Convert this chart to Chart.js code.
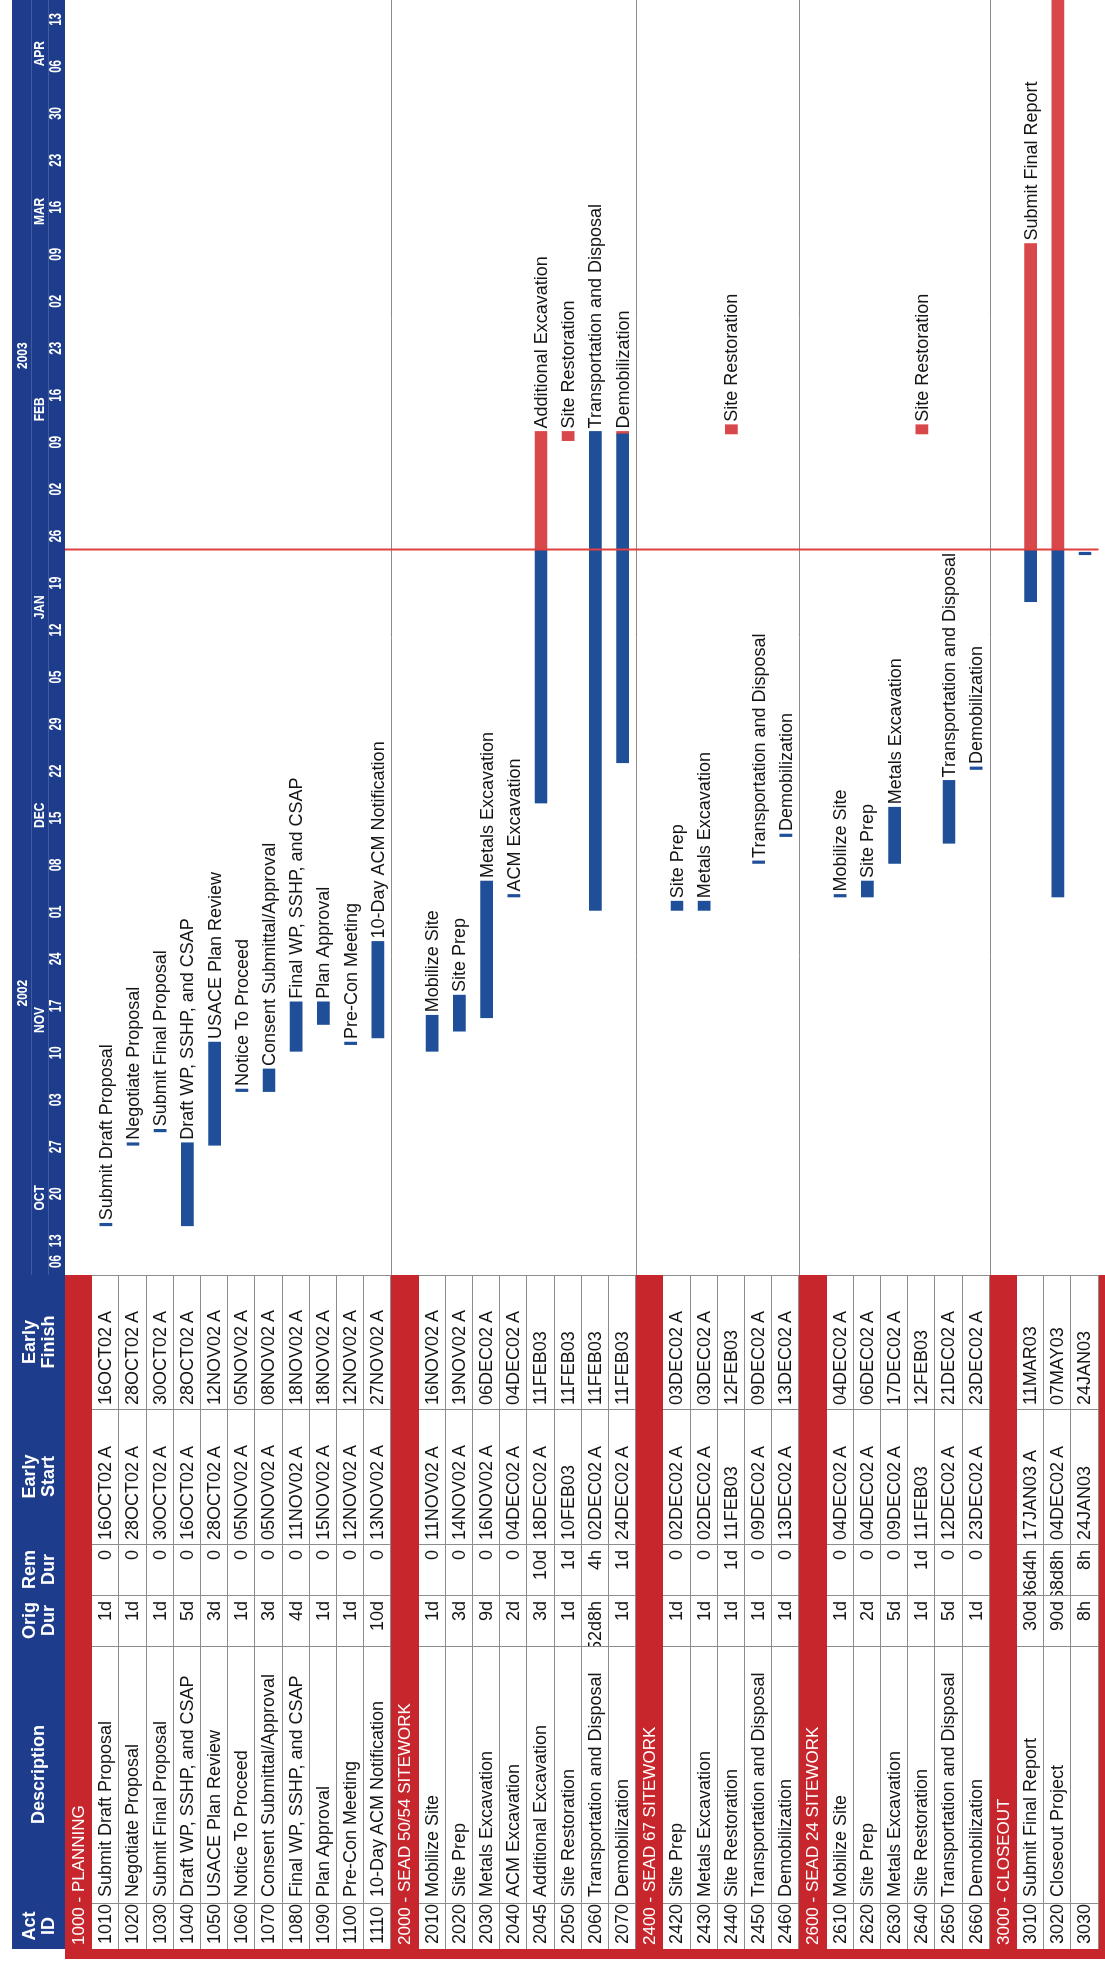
<!DOCTYPE html>
<html>
<head>
<meta charset="utf-8">
<title>Project Schedule</title>
<script src="https://cdn.jsdelivr.net/npm/chart.js@4.4.1/dist/chart.umd.min.js"></script>
<style>
  html, body { margin: 0; padding: 0; background: #fff; overflow: hidden; }
  body { width: 1105px; height: 1961px; position: relative; }
  /* the sheet is landscape, turned a quarter left like the scanned page */
  #page { position: absolute; left: 0; top: 0; width: 1961px; height: 1105px;
          transform-origin: 0 0; transform: translateY(1961px) rotate(-90deg);
          font-family: Arial, "Liberation Sans", sans-serif; background: #fff; }
  #gantt { position: absolute; left: 0; top: 0; }
  #table { position: absolute; left: 0; top: 0; width: 686px; height: 1105px; }
  .c { position: absolute; box-sizing: border-box; white-space: nowrap; overflow: hidden;
       font-size: 18px; color: #151515; background: #fff;
       border-right: 1px solid #8c8c8c; border-bottom: 1px solid #8c8c8c; }
  .h { color: #fff; font-weight: bold; background: #1d3d8c; border: none; font-size: 18px;
       line-height: 19px; display: flex; align-items: center; justify-content: center; text-align: center; }
  .band { background: #c8262d; color: #fff; border: none; font-size: 17px; padding-left: 4px; }
  .r { display: flex; justify-content: flex-end; }
</style>
</head>
<body>
<div id="page">
  <canvas id="gantt" width="1961" height="1105"></canvas>
  <div id="table"></div>
</div>
<script>
// ---- data read from the schedule ----
const actIds = ['1000 - PLANNING', '1010', '1020', '1030', '1040', '1050', '1060', '1070', '1080', '1090', '1100', '1110',
  '2000 - SEAD 50/54 SITEWORK', '2010', '2020', '2030', '2040', '2045', '2050', '2060', '2070',
  '2400 - SEAD 67 SITEWORK', '2420', '2430', '2440', '2450', '2460',
  '2600 - SEAD 24 SITEWORK', '2610', '2620', '2630', '2640', '2650', '2660',
  '3000 - CLOSEOUT', '3010', '3020', '3030'];
const descriptions = ['', 'Submit Draft Proposal', 'Negotiate Proposal', 'Submit Final Proposal', 'Draft WP, SSHP, and CSAP',
  'USACE Plan Review', 'Notice To Proceed', 'Consent Submittal/Approval', 'Final WP, SSHP, and CSAP', 'Plan Approval',
  'Pre-Con Meeting', '10-Day ACM Notification',
  '', 'Mobilize Site', 'Site Prep', 'Metals Excavation', 'ACM Excavation', 'Additional Excavation', 'Site Restoration',
  'Transportation and Disposal', 'Demobilization',
  '', 'Site Prep', 'Metals Excavation', 'Site Restoration', 'Transportation and Disposal', 'Demobilization',
  '', 'Mobilize Site', 'Site Prep', 'Metals Excavation', 'Site Restoration', 'Transportation and Disposal', 'Demobilization',
  '', 'Submit Final Report', 'Closeout Project', ''];
const origDur = ['', '1d', '1d', '1d', '5d', '3d', '1d', '3d', '4d', '1d', '1d', '10d',
  '', '1d', '3d', '9d', '2d', '3d', '1d', '52d8h', '1d',
  '', '1d', '1d', '1d', '1d', '1d',
  '', '1d', '2d', '5d', '1d', '5d', '1d',
  '', '30d', '90d', '8h'];
const remDur = ['', '0', '0', '0', '0', '0', '0', '0', '0', '0', '0', '0',
  '', '0', '0', '0', '0', '10d', '1d', '4h', '1d',
  '', '0', '0', '1d', '0', '0',
  '', '0', '0', '0', '1d', '0', '0',
  '', '36d4h', '68d8h', '8h'];
const earlyStart = ['', '16OCT02 A', '28OCT02 A', '30OCT02 A', '16OCT02 A', '28OCT02 A', '05NOV02 A', '05NOV02 A', '11NOV02 A',
  '15NOV02 A', '12NOV02 A', '13NOV02 A',
  '', '11NOV02 A', '14NOV02 A', '16NOV02 A', '04DEC02 A', '18DEC02 A', '10FEB03', '02DEC02 A', '24DEC02 A',
  '', '02DEC02 A', '02DEC02 A', '11FEB03', '09DEC02 A', '13DEC02 A',
  '', '04DEC02 A', '04DEC02 A', '09DEC02 A', '11FEB03', '12DEC02 A', '23DEC02 A',
  '', '17JAN03 A', '04DEC02 A', '24JAN03'];
const earlyFinish = ['', '16OCT02 A', '28OCT02 A', '30OCT02 A', '28OCT02 A', '12NOV02 A', '05NOV02 A', '08NOV02 A', '18NOV02 A',
  '18NOV02 A', '12NOV02 A', '27NOV02 A',
  '', '16NOV02 A', '19NOV02 A', '06DEC02 A', '04DEC02 A', '11FEB03', '11FEB03', '11FEB03', '11FEB03',
  '', '03DEC02 A', '03DEC02 A', '12FEB03', '09DEC02 A', '13DEC02 A',
  '', '04DEC02 A', '06DEC02 A', '17DEC02 A', '12FEB03', '21DEC02 A', '23DEC02 A',
  '', '11MAR03', '07MAY03', '24JAN03'];
// where the red (remaining) part of a bar begins: '' = none, 'start' = whole bar
const remainingFrom = ['', '', '', '', '', '', '', '', '', '', '', '',
  '', '', '', '', '', '2003-01-25', 'start', '', '2003-02-11T08:00',
  '', '', '', 'start', '', '',
  '', '', '', '', 'start', '', '',
  '', '2003-01-25', '2003-01-25', ''];
const dataDate = '2003-01-25';

// timescale
const viewStart = '2002-10-09';
const viewEnd = '2003-04-17';
const weekStarts = ['2002-10-06', '2002-10-13', '2002-10-20', '2002-10-27', '2002-11-03', '2002-11-10', '2002-11-17',
  '2002-11-24', '2002-12-01', '2002-12-08', '2002-12-15', '2002-12-22', '2002-12-29', '2003-01-05', '2003-01-12',
  '2003-01-19', '2003-01-26', '2003-02-02', '2003-02-09', '2003-02-16', '2003-02-23', '2003-03-02', '2003-03-09',
  '2003-03-16', '2003-03-23', '2003-03-30', '2003-04-06', '2003-04-13'];
const monthNames = ['OCT', 'NOV', 'DEC', 'JAN', 'FEB', 'MAR', 'APR'];
const monthStarts = ['2002-10-01', '2002-11-01', '2002-12-01', '2003-01-01', '2003-02-01', '2003-03-01', '2003-04-01', '2003-05-01'];
const yearNames = ['2002', '2003'];
const yearStarts = ['2002-01-01', '2003-01-01', '2004-01-01'];

// ---- layout ----
const W = 1961, H = 1105;
const HEAD_TOP = 12, TOP = 65, ROW_H = 27.2;
const colEdges = [12, 58, 315, 366, 417, 552, 686];
const TL_LEFT = colEdges[colEdges.length - 1];
const BLUE_HEAD = '#1d3d8c', BAR_BLUE = '#1f4f98', BAR_RED = '#d8484a';

const MONTHS = ['JAN', 'FEB', 'MAR', 'APR', 'MAY', 'JUN', 'JUL', 'AUG', 'SEP', 'OCT', 'NOV', 'DEC'];
const BASE = Date.UTC(2003, 0, 26);
const dayOf = ms => (ms - BASE) / 864e5;
const isoDay = s => dayOf(Date.parse(s.length > 10 ? s + ':00Z' : s + 'T00:00:00Z'));
function p3Day(s) {
  const m = /^(\d\d)([A-Z]{3})(\d\d)/.exec(s);
  return dayOf(Date.UTC(2000 + Number(m[3]), MONTHS.indexOf(m[2]), Number(m[1])));
}
const isBand = i => actIds[i].includes(' - ');

// ---- bars ----
const blueBars = [], redBars = [], barEnds = [];
actIds.forEach((id, i) => {
  if (isBand(i)) { blueBars.push(null); redBars.push(null); barEnds.push(null); return; }
  const s = p3Day(earlyStart[i]) + 8 / 24;
  const f = p3Day(earlyFinish[i]) + 17 / 24;
  barEnds.push(f);
  const rf = remainingFrom[i];
  if (rf === 'start') { blueBars.push(null); redBars.push([s, f]); }
  else if (rf) { const r = isoDay(rf); blueBars.push([s, r]); redBars.push([r, f]); }
  else { blueBars.push([s, f]); redBars.push(null); }
});

// ---- table (left side) ----
const table = document.getElementById('table');
function cell(cls, x0, x1, y, h, html, extra) {
  const d = document.createElement('div');
  d.className = 'c ' + cls;
  d.style.left = x0 + 'px'; d.style.width = (x1 - x0) + 'px';
  d.style.top = y + 'px'; d.style.height = h + 'px';
  if (extra) Object.assign(d.style, extra);
  d.innerHTML = html;
  table.appendChild(d);
  return d;
}
const headers = ['Act<br>ID', 'Description', 'Orig<br>Dur', 'Rem<br>Dur', 'Early<br>Start', 'Early<br>Finish'];
headers.forEach((t, k) => cell('h', colEdges[k], colEdges[k + 1], HEAD_TOP, TOP - HEAD_TOP, t));
actIds.forEach((id, i) => {
  const y = TOP + i * ROW_H;
  const lh = { lineHeight: ROW_H + 'px' };
  if (isBand(i)) {
    cell('band', colEdges[0], TL_LEFT, y, ROW_H, id, lh);
    return;
  }
  cell('', colEdges[0], colEdges[1], y, ROW_H, id, Object.assign({ paddingLeft: '5px' }, lh));
  cell('', colEdges[1], colEdges[2], y, ROW_H, descriptions[i], Object.assign({ paddingLeft: '6px' }, lh));
  cell('r', colEdges[2], colEdges[3], y, ROW_H, origDur[i], Object.assign({ paddingRight: '5px' }, lh));
  cell('r', colEdges[3], colEdges[4], y, ROW_H, remDur[i], Object.assign({ paddingRight: '5px' }, lh));
  cell('', colEdges[4], colEdges[5], y, ROW_H, earlyStart[i], Object.assign({ paddingLeft: '4px' }, lh));
  cell('', colEdges[5], colEdges[6], y, ROW_H, earlyFinish[i], Object.assign({ paddingLeft: '4px' }, lh));
});
// red frame round the table
const rowsBottom = TOP + actIds.length * ROW_H;
cell('band', 2, colEdges[0], TOP, H - TOP, '', { padding: 0 });
cell('band', 2, TL_LEFT, rowsBottom, H - rowsBottom, '', { padding: 0 });

// ---- timeline ----
function condensed(ctx, txt, x, y, align, sx) {
  const w = ctx.measureText(txt).width * sx;
  ctx.save();
  ctx.translate(align === 'center' ? x - w / 2 : x, y);
  ctx.scale(sx, 1);
  ctx.textAlign = 'left';
  ctx.fillText(txt, 0, 0);
  ctx.restore();
}

const ganttDecor = {
  id: 'ganttDecor',
  beforeDatasetsDraw(chart) {
    const { ctx, chartArea: a, scales: { x } } = chart;
    ctx.save();
    // timescale header
    ctx.fillStyle = BLUE_HEAD;
    ctx.fillRect(a.left, HEAD_TOP, a.right - a.left, TOP - HEAD_TOP);
    ctx.strokeStyle = 'rgba(255,255,255,0.16)';
    ctx.lineWidth = 1;
    [HEAD_TOP + 19.5, HEAD_TOP + 36.5].forEach(yy => {
      ctx.beginPath(); ctx.moveTo(a.left, yy); ctx.lineTo(a.right, yy); ctx.stroke();
    });
    ctx.fillStyle = '#fff';
    ctx.textBaseline = 'middle';
    ctx.font = 'bold 15px Arial, "Liberation Sans", sans-serif';
    const v0 = isoDay(viewStart), v1 = isoDay(viewEnd);
    yearNames.forEach((t, k) => {
      const s = Math.max(isoDay(yearStarts[k]), v0), e = Math.min(isoDay(yearStarts[k + 1]), v1);
      condensed(ctx, t, (x.getPixelForValue(s) + x.getPixelForValue(e)) / 2, HEAD_TOP + 11, 'center', 0.8);
    });
    monthNames.forEach((t, k) => {
      const s = Math.max(isoDay(monthStarts[k]), v0), e = Math.min(isoDay(monthStarts[k + 1]), v1);
      condensed(ctx, t, (x.getPixelForValue(s) + x.getPixelForValue(e)) / 2, HEAD_TOP + 28, 'center', 0.8);
    });
    ctx.font = 'bold 16px Arial, "Liberation Sans", sans-serif';
    weekStarts.forEach(d => {
      const px = Math.max(x.getPixelForValue(isoDay(d)) + 1, a.left + 7);
      condensed(ctx, d.slice(8), px, HEAD_TOP + 45, 'left', 0.72);
    });
    // group separators
    ctx.strokeStyle = '#8c8c8c';
    actIds.forEach((id, i) => {
      if (!isBand(i) || i === 0) return;
      const yy = Math.round(TOP + i * ROW_H) + 0.5;
      ctx.beginPath(); ctx.moveTo(a.left, yy); ctx.lineTo(a.right, yy); ctx.stroke();
    });
    ctx.restore();
  },
  afterDatasetsDraw(chart) {
    const { ctx, chartArea: a, scales: { x, y } } = chart;
    ctx.save();
    // data date line
    const dx = Math.round(x.getPixelForValue(isoDay(dataDate))) + 0.5;
    ctx.strokeStyle = '#e0413f';
    ctx.lineWidth = 2;
    ctx.beginPath(); ctx.moveTo(dx, a.top); ctx.lineTo(dx, a.bottom); ctx.stroke();
    // activity labels
    ctx.font = '18px Arial, "Liberation Sans", sans-serif';
    ctx.textBaseline = 'middle';
    descriptions.forEach((t, i) => {
      if (!t || barEnds[i] == null || barEnds[i] > x.max) return;
      const lx = x.getPixelForValue(barEnds[i]) + 2;
      const ly = y.getPixelForValue(i);
      const w = ctx.measureText(t).width;
      ctx.fillStyle = '#fff';
      ctx.fillRect(lx, ly - 9, w + 2, 18);
      ctx.fillStyle = '#151515';
      ctx.fillText(t, lx + 1, ly + 1);
    });
    ctx.restore();
  }
};

new Chart(document.getElementById('gantt'), {
  type: 'bar',
  data: {
    labels: actIds.map((id, i) => String(i)),
    datasets: [
      { label: 'Actual', data: blueBars, backgroundColor: BAR_BLUE, grouped: false, barThickness: 12, borderWidth: 0 },
      { label: 'Remaining', data: redBars, backgroundColor: BAR_RED, grouped: false, barThickness: 12, borderWidth: 0 }
    ]
  },
  options: {
    indexAxis: 'y',
    responsive: false,
    animation: false,
    devicePixelRatio: 1,
    layout: { padding: { left: TL_LEFT, right: 0, top: TOP, bottom: H - rowsBottom } },
    scales: {
      x: { type: 'linear', min: isoDay(viewStart), max: isoDay(viewEnd), display: false },
      y: { type: 'category', display: false, offset: true }
    },
    plugins: { legend: { display: false }, tooltip: { enabled: false } }
  },
  plugins: [ganttDecor]
});
</script>
</body>
</html>
